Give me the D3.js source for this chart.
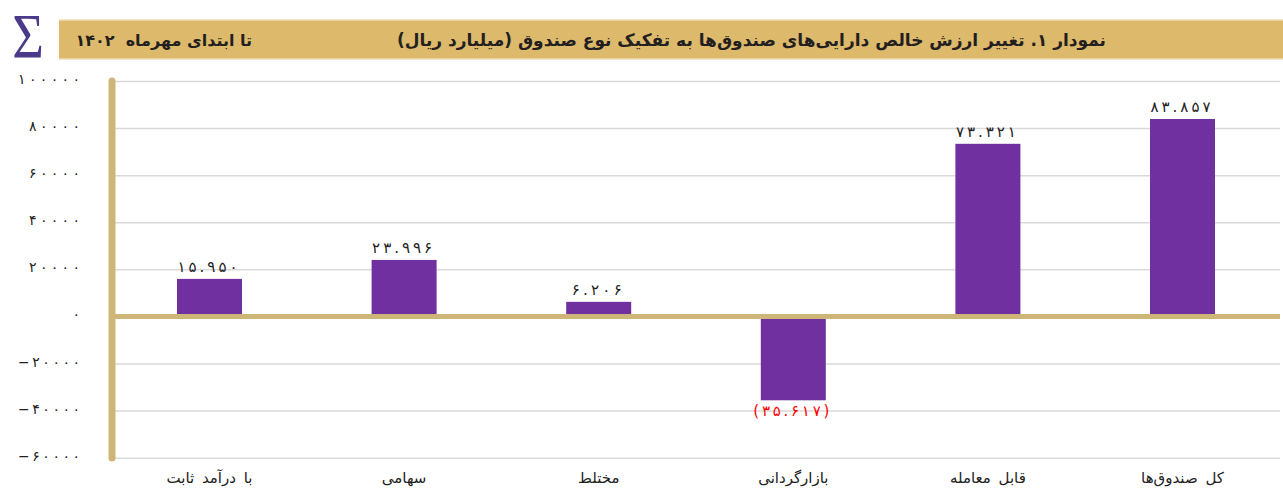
<!DOCTYPE html>
<html>
<head>
<meta charset="utf-8">
<script src="https://cdn.jsdelivr.net/npm/d3@7"></script>
<style>
  body { margin: 0; background: #fff; }
  svg { display: block; }
</style>
</head>
<body>
<svg></svg>
<script>
// chart data
const categories = ["با درآمد ثابت", "سهامی", "مختلط", "بازارگردانی", "قابل معامله", "کل صندوق‌ها"];
const values = [15950, 23996, 6206, -35617, 73321, 83857];
const yTicks = [100000, 80000, 60000, 40000, 20000, 0, -20000, -40000, -60000];
const titleText = "نمودار ۱. تغییر ارزش خالص دارایی‌های صندوق‌ها به تفکیک نوع صندوق (میلیارد ریال)";
const dateText = "تا ابتدای مهرماه  ۱۴۰۲";

const W = 1283, H = 489;
const svg = d3.select("svg").attr("width", W).attr("height", H);

const faDigits = "۰۱۲۳۴۵۶۷۸۹";
const toFa = s => String(s).replace(/\d/g, d => faDigits[+d]);
// 83857 -> ۸۳.۸۵۷
const fmtVal = v => toFa(d3.format(",")(Math.abs(v)).replace(/,/g, "."));

const x = d3.scaleBand().domain(categories).range([112, 1280])
    .paddingInner(0.666).paddingOuter(0.334);
const y = d3.scaleLinear().domain([-60000, 100000]).range([457.7, 81]);

// header band
svg.append("rect")
    .attr("x", 59).attr("y", 20).attr("width", W - 59).attr("height", 39)
    .attr("fill", "#DDB96B");
svg.append("line").attr("x1", 59).attr("x2", W).attr("y1", 20).attr("y2", 20)
    .attr("stroke", "#EFDDB4").attr("stroke-width", 1.5);
svg.append("line").attr("x1", 59).attr("x2", W).attr("y1", 59).attr("y2", 59)
    .attr("stroke", "#EFDDB4").attr("stroke-width", 1.5);

svg.append("text")
    .attr("x", 1106).attr("y", 46)
    .attr("direction", "rtl")
    .attr("text-anchor", "start")
    .style("font-family", "'DejaVu Sans', sans-serif")
    .style("font-weight", "bold")
    .style("font-size", "17px")
    .attr("fill", "#231f20")
    .text(titleText);

svg.append("text")
    .attr("x", 252).attr("y", 46)
    .attr("direction", "rtl")
    .attr("text-anchor", "start")
    .style("font-family", "'DejaVu Sans', sans-serif")
    .style("font-weight", "bold")
    .style("font-size", "16px")
    .style("white-space", "pre")
    .attr("fill", "#231f20")
    .text(dateText);

// sigma logo
svg.append("text")
    .attr("x", 28).attr("y", 58)
    .attr("text-anchor", "middle")
    .style("font-family", "'Liberation Serif', serif")
    .style("font-size", "64px")
    .attr("fill", "#4B3A8C")
    .attr("transform", "translate(28,0) scale(0.85,1) translate(-28,0)")
    .text("Σ");

// gridlines
const grid = svg.append("g").attr("transform", "translate(115,0)")
    .call(d3.axisRight(y).tickValues(yTicks).tickSize(1280 - 115).tickFormat(""));
grid.select(".domain").remove();
grid.selectAll("line").attr("stroke", "#D9D9D9").attr("stroke-width", 1.5);

// y labels, spread out like the original
const yFmt = d => (d < 0 ? "−" : "") + toFa(Math.abs(d));
const yAxis = svg.append("g").attr("transform", "translate(80,-2)")
    .call(d3.axisLeft(y).tickValues(yTicks).tickSize(0).tickPadding(0).tickFormat(yFmt));
yAxis.select(".domain").remove();
yAxis.selectAll("text")
    .style("font-family", "'DejaVu Sans', sans-serif")
    .style("font-size", "14px")
    .attr("fill", "#222")
    .each(function(d) {
        const n = yFmt(d).length;
        if (n > 1) d3.select(this).attr("textLength", n * 11 - 4).attr("lengthAdjust", "spacing");
    });

// bars
svg.append("g").selectAll("rect")
    .data(values)
    .join("rect")
    .attr("x", (d, i) => x(categories[i]))
    .attr("y", d => y(Math.max(0, d)))
    .attr("width", x.bandwidth())
    .attr("height", d => Math.abs(y(d) - y(0)))
    .attr("fill", "#7030A0");

// value labels
svg.append("g").selectAll("text")
    .data(values)
    .join("text")
    .attr("x", (d, i) => x(categories[i]) + x.bandwidth() / 2 - 2)
    .attr("y", d => d >= 0 ? y(d) - 7 : y(d) + 16)
    .attr("text-anchor", "middle")
    .style("font-family", "'DejaVu Sans', sans-serif")
    .style("font-size", "15px")
    .attr("fill", d => d >= 0 ? "#222" : "#FF0000")
    .text(d => d >= 0 ? fmtVal(d) : "(" + fmtVal(d) + ")")
    .attr("textLength", d => d >= 0 ? (fmtVal(d).length >= 6 ? 60 : 50) : 76)
    .attr("lengthAdjust", "spacing");

// axis lines (tan)
svg.append("line")
    .attr("x1", 112).attr("x2", 1280).attr("y1", y(0)).attr("y2", y(0))
    .attr("stroke", "#CDB677").attr("stroke-width", 5);
svg.append("line")
    .attr("x1", 112).attr("x2", 112).attr("y1", 81).attr("y2", 458)
    .attr("stroke", "#CDB677").attr("stroke-width", 7)
    .attr("stroke-linecap", "round");

// category labels
const xAxis = svg.append("g").attr("transform", "translate(0,470)")
    .call(d3.axisBottom(x).tickSize(0).tickPadding(2));
xAxis.select(".domain").remove();
xAxis.selectAll("text")
    .style("font-family", "'DejaVu Sans', sans-serif")
    .style("font-size", "15px")
    .style("word-spacing", "3px")
    .attr("fill", "#222");
</script>
</body>
</html>
